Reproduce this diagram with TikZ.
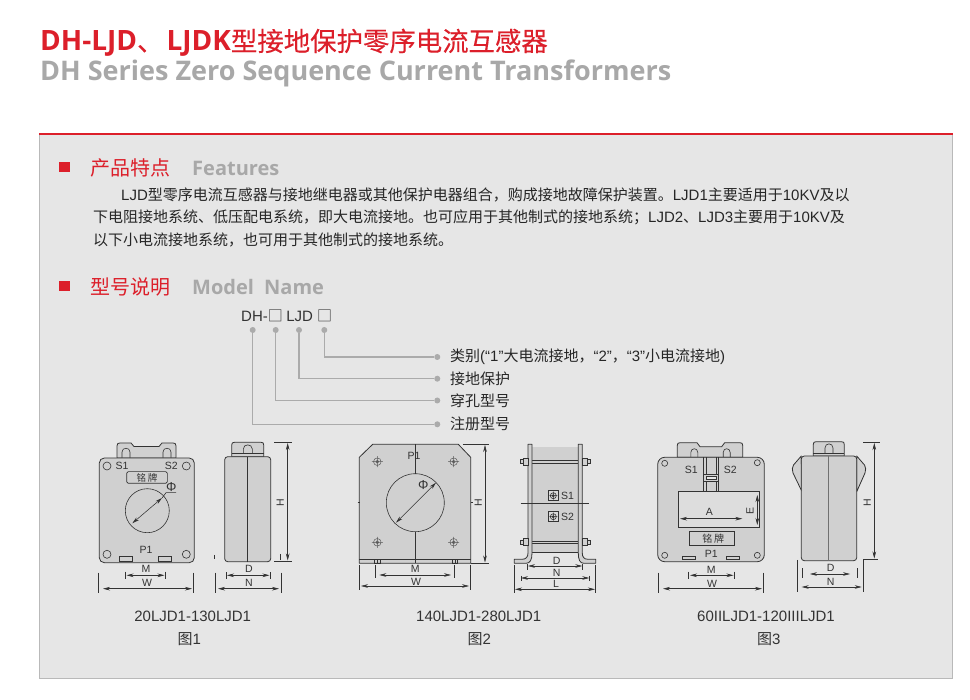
\documentclass[tikz,border=0pt]{standalone}
\usepackage{fontspec}
\usetikzlibrary{arrows.meta}
\setmainfont{Liberation Sans}
\newfontfamily\cjkreg{Noto Sans CJK SC}
\newfontfamily\cjkthick[FakeBold=0.25]{Noto Sans CJK SC}
\newfontfamily\headfont{Open Sans}
\newcommand{\cj}[1]{{\cjkreg #1}}
\newcommand{\fs}[1]{\fontsize{#1}{#1}\selectfont}
\definecolor{panelgray}{HTML}{E6E6E6}
\definecolor{titlered}{HTML}{DC1F2A}
\definecolor{headgray}{HTML}{A8A8A8}
\definecolor{inkgray}{HTML}{333333}
\definecolor{devgray}{HTML}{D0D0D0}
\definecolor{leadgray}{HTML}{ABABAB}
\tikzset{
 lbl/.style={inner sep=0pt,text=inkgray,font=\fs{10.5}},
 captxt/.style={inner sep=0pt,text=inkgray,font=\fs{15}},
 body/.style={inner sep=0pt,anchor=west,text=black!85,font=\fs{15}},
 dev/.style={draw=inkgray,fill=devgray,line width=.8pt,line join=round},
 thin ink/.style={draw=inkgray,line width=.6pt},
 dimarrow/.style={draw=inkgray,line width=.55pt,{Stealth[length=7pt,width=3.6pt]}-{Stealth[length=7pt,width=3.6pt]}},
 leader/.style={draw=leadgray,line width=1.2pt},
 leaddot/.style={circle,fill=leadgray,inner sep=0pt,minimum size=6pt},
 bulletsq/.style={fill=titlered,inner sep=0pt,minimum width=10.7pt,minimum height=9.4pt},
}
\newcommand{\hdim}[3]{\draw[dimarrow] (#1,#3) -- (#2,#3);}
\newcommand{\vdim}[3]{\draw[dimarrow] (#3,#1) -- (#3,#2);}
\newcommand{\tick}[3]{\draw[thin ink] (#1,#2) -- (#1,#3);}
\newcommand{\screw}[2]{\draw[draw=inkgray!80,line width=.5pt] (#1,#2) circle (3.8) (#1,#2) circle (1.6) (#1-5.5,#2) -- (#1+5.5,#2) (#1,#2-5.5) -- (#1,#2+5.5);}
\newcommand{\terminal}[2]{\draw[thin ink,fill=devgray!80] (#1-5,#2-5) rectangle (#1+5,#2+5);\draw[thin ink] (#1,#2) circle (3) (#1,#2) circle (1.2) (#1-4,#2) -- (#1+4,#2) (#1,#2-4) -- (#1,#2+4);}
\begin{document}
\begin{tikzpicture}[x=1pt,y=-1pt]
\useasboundingbox (0,0) rectangle (970,700);
\fill[white] (0,0) rectangle (970,700);
% panel
\fill[panelgray] (39.5,134) rectangle (952.7,678);
\draw[headgray!80,line width=.8pt] (39.5,134) -- (39.5,678) -- (952.7,678) -- (952.7,134);
\draw[titlered,line width=2pt] (39,134.5) -- (953,134.5);
% titles
\node[inner sep=0pt,anchor=base west,text=titlered,font=\fs{28}] (title) at (40,51) {{\headfont\bfseries DH-LJD}{\cjkthick\fs{26.4}、}\hspace{3pt}{\headfont\bfseries LJDK}{\cjkthick\fs{26.4}型接地保护零序电流互感器}};
\node[inner sep=0pt,anchor=base west,text=headgray,font=\fs{27}] (subtitle) at (40,81) {\headfont\bfseries DH Series Zero Sequence Current Transformers};
% features
\node[bulletsq] (b1) at (64.7,167.2) {};
\node[inner sep=0pt,anchor=west,text=titlered,font=\fs{20}] (h1) at (90,168) {\cj{产品特点}};
\node[inner sep=0pt,anchor=west,text=headgray,font=\fs{20}] (h1e) at (192,168) {\headfont\bfseries Features};
\node[body] (p1) at (121,195) {LJD\cj{型零序电流互感器与接地继电器或其他保护电器组合，购成接地故障保护装置。}LJD1\cj{主要适用于}10KV\cj{及以}};
\node[body] (p2) at (93,217.7) {\cj{下电阻接地系统、低压配电系统，即大电流接地。也可应用于其他制式的接地系统；}LJD2\cj{、}LJD3\cj{主要用于}10KV\cj{及}};
\node[body] (p3) at (93,239.5) {\cj{以下小电流接地系统，也可用于其他制式的接地系统。}};
% model
\node[bulletsq] (b2) at (64.7,286) {};
\node[inner sep=0pt,anchor=west,text=titlered,font=\fs{20}] (h2) at (90,287) {\cj{型号说明}};
\node[inner sep=0pt,anchor=west,text=headgray,font=\fs{20}] (h2e) at (192,287) {\headfont\bfseries Model\hspace{5pt} Name};
\node[inner sep=0pt,anchor=west,text=inkgray,font=\fs{15}] (code) at (241,316) {DH-\cj{□}\hspace{3.5pt}LJD\hspace{4pt}\cj{□}};
\foreach \n/\x in {da/252.7,db/275.7,dc/299,dd/324.3} \node[leaddot] (\n) at (\x,330) {};
\foreach \n/\y in {ea/424.3,eb/400.5,ec/378.7,ed/357} \node[leaddot] (\n) at (437.3,\y) {};
\draw[leader] (dd) |- (ed);
\draw[leader] (dc) |- (ec);
\draw[leader] (db) |- (eb);
\draw[leader] (da) |- (ea);
\foreach \n/\y/\t in {la/357/{\cj{类别}(“1”\cj{大电流接地，}“2”\cj{，}“3”\cj{小电流接地})},lb/378.7/\cj{接地保护},lc/401/\cj{穿孔型号},ld/424.3/\cj{注册型号}}
 \node[inner sep=0pt,anchor=west,text=black!85,font=\fs{15}] (\n) at (450,\y) {\t};
% ===== Figure 1
\draw[dev] (117,458) -- (117,446) .. controls (117,443.5) and (118,443) .. (120,443) -- (131,443) -- (134,446.5) -- (159,446.5) -- (162,443) -- (173,443) .. controls (175,443) and (176,443.5) .. (176,446) -- (176,458) -- cycle;
\draw[thin ink] (122,458) -- (122,452) .. controls (122,447) and (130,447) .. (130,452) -- (130,458);
\draw[thin ink] (163,458) -- (163,452) .. controls (163,447) and (171,447) .. (171,452) -- (171,458);
\draw[dev,rounded corners=5pt] (99.3,458) rectangle (194.3,562.7);
\foreach \x/\y in {107/466,186.3/466,107/554.3,186.3/554.3} \draw[thin ink] (\x,\y) circle (4);
\node[lbl] (f1s1) at (122,466) {S1};
\node[lbl] (f1s2) at (171.3,466) {S2};
\draw[thin ink,rounded corners=1.5pt] (126.7,471.7) rectangle (167.3,483.3);
\node[lbl,font=\fs{9.5}] (f1np) at (147,477.5) {\cj{铭\,牌}};
\draw[thin ink] (147.3,510.7) circle (22);
\draw[dimarrow] (132.3,523.3) -- (162,498);
\draw[thin ink] (162,498) -- (166,492.7) -- (176,492.7);
\node[lbl,font=\fs{13}] (f1phi) at (171.3,487.3) {Φ};
\node[lbl] (f1p1) at (146,550) {P1};
\draw[thin ink] (119.3,556.7) rectangle (132.3,561.7) (158.3,556.7) rectangle (171.7,561.7);
\node[lbl] (f1m) at (146,568.7) {M};
\tick{125.7}{571.7}{579} \tick{165.3}{571.7}{579}
\hdim{126.5}{164.5}{575.3}
\node[lbl] (f1w) at (147,582.7) {W};
\tick{98.7}{572.7}{593.3} \tick{193.3}{572.7}{593.3}
\hdim{103}{192}{588.7}
% side 1
\draw[dev] (231.7,456.7) -- (231.7,445) .. controls (231.7,443) and (232.5,442.3) .. (234.5,442.3) -- (261,442.3) .. controls (263,442.3) and (263.7,443) .. (263.7,445) -- (263.7,456.7) -- cycle;
\draw[thin ink] (243.3,453.5) -- (243.3,449) .. controls (243.3,443.5) and (252.3,443.5) .. (252.3,449) -- (252.3,453.5);
\draw[thin ink] (231.7,453.5) -- (263.7,453.5);
\draw[dev,rounded corners=3pt] (224.7,456.7) rectangle (270.7,561.7);
\draw[thin ink,line width=.8pt] (247.3,456.7) -- (247.3,561.7);
\draw[thin ink] (274,442.3) -- (292.3,442.3) (274,561) -- (292.3,561);
\vdim{443}{560.5}{287.7}
\node[lbl,rotate=90] (f1h) at (280.3,502.3) {H};
\tick{214.7}{555}{559} \tick{280.7}{554}{560}
\node[lbl] (f1d) at (249,568.7) {D};
\tick{226}{572}{579} \tick{270.3}{572}{579}
\hdim{227}{269.5}{575.3}
\node[lbl] (f1n) at (249,582.7) {N};
\tick{215}{572.7}{593.3} \tick{281}{572.7}{593.3}
\hdim{218}{279}{588.7}
\node[captxt] (c1) at (192.7,616) {20LJD1-130LJD1};
\node[captxt] (t1) at (189.3,639.3) {\cj{图}1};
% ===== Figure 2
\draw[dev] (372.7,444.3) -- (458.3,444.3) -- (470.7,457.3) -- (470.7,563.3) -- (359.3,563.3) -- (359.3,457.3) -- cycle;
\draw[thin ink] (359.3,559.3) -- (470.7,559.3);
\draw[thin ink] (415.3,444.3) -- (415.3,473.7) (415.3,531.7) -- (415.3,563.3);
\draw[thin ink] (415.3,502.7) circle (29);
\draw[dimarrow] (396,522.7) -- (436,482.7);
\screw{377.3}{461.7} \screw{453.7}{461.7} \screw{377.3}{542.3} \screw{453.7}{542.3}
\node[lbl] (f2p1) at (414,456) {P1};
\node[lbl,font=\fs{13}] (f2phi) at (423.3,485) {Φ};
\draw[thin ink] (374.3,559.3) rectangle (380,563.3) (377.2,559.3) -- (377.2,563.3) (452,559.3) rectangle (457.7,563.3) (454.9,559.3) -- (454.9,563.3);
\draw[thin ink] (462.7,444.3) -- (489.3,444.3) (470.7,563.3) -- (489.3,563.3) (357.5,502.7) -- (359.5,502.7) (470.7,502.7) -- (472.5,502.7);
\vdim{445}{562.5}{485}
\node[lbl,rotate=90] (f2h) at (478.3,502.7) {H};
\node[lbl] (f2m) at (415.3,568.7) {M};
\tick{375.7}{565}{577.7} \tick{454.3}{565}{577.7}
\hdim{379.3}{451}{575}
\node[lbl] (f2w) at (416,582) {W};
\tick{359.7}{565}{590} \tick{470.3}{565}{590}
\hdim{361}{469}{586}
% side 2
\fill[devgray] (532,446.7) rectangle (578.3,552.7);
\draw[thin ink] (532,460.7) -- (578.3,460.7) (532,463.3) -- (578.3,463.3) (532,541) -- (578.3,541) (532,543.3) -- (578.3,543.3) (532,552.7) -- (578.3,552.7);
\draw[dev] (528,444.3) -- (532,444.3) -- (532,553) .. controls (532,560) and (530,563.3) .. (526,563.3) -- (514.3,563.3) -- (514.3,559.3) -- (522,559.3) .. controls (526,559.3) and (528,557) .. (528,553) -- cycle;
\draw[dev] (578.3,444.3) -- (582.3,444.3) -- (582.3,553) .. controls (582.3,557) and (584,559.3) .. (588,559.3) -- (595.7,559.3) -- (595.7,563.3) -- (584,563.3) .. controls (580,563.3) and (578.3,560) .. (578.3,553) -- cycle;
\foreach \y in {461.7,542.3}{
 \draw[thin ink,fill=devgray] (520.7,\y-2) rectangle (523,\y+2) (523,\y-3.5) rectangle (528,\y+3.5);
 \draw[thin ink,fill=devgray] (587.5,\y-2) rectangle (590,\y+2) (582.3,\y-3.5) rectangle (587.5,\y+3.5);
}
\draw[thin ink] (520.7,503.7) -- (589.3,503.7);
\terminal{553.3}{495.7} \terminal{553.3}{516.7}
\node[lbl] (f2s1) at (567.5,495.7) {S1};
\node[lbl] (f2s2) at (567.5,517) {S2};
\node[lbl] (f2d) at (556.7,561) {D};
\tick{527.5}{564}{570} \tick{582.3}{564}{570}
\hdim{528}{582.3}{566}
\node[lbl] (f2n) at (556.7,573) {N};
\tick{521}{575.5}{581} \tick{589.3}{575.5}{581}
\hdim{521}{589.3}{578}
\node[lbl] (f2l) at (556,584) {L};
\tick{514.7}{565}{593} \tick{595.3}{565}{593}
\hdim{515}{595}{589.3}
\node[captxt] (c2) at (478.7,616) {140LJD1-280LJD1};
\node[captxt] (t2) at (479.3,639.3) {\cj{图}2};
% ===== Figure 3
\draw[dev] (677.3,457.3) -- (677.3,445.5) .. controls (677.3,443.5) and (678,442.7) .. (680,442.7) -- (697,442.7) -- (700,446.7) -- (721.7,446.7) -- (724.7,442.7) -- (740,442.7) .. controls (742,442.7) and (742.7,443.5) .. (742.7,445.5) -- (742.7,457.3) -- cycle;
\draw[thin ink] (690.8,457.3) -- (690.8,452.5) .. controls (690.8,447.5) and (697.8,447.5) .. (697.8,452.5) -- (697.8,457.3);
\draw[thin ink] (723.2,457.3) -- (723.2,452.5) .. controls (723.2,447.5) and (730.2,447.5) .. (730.2,452.5) -- (730.2,457.3);
\draw[dev,rounded corners=7pt] (657.7,457.3) rectangle (764.3,561.7);
\foreach \x/\y in {664.7/463.3,757.3/462.7,664.7/555.3,757.3/555.3} \draw[thin ink] (\x,\y) circle (3);
\draw[thin ink] (703.7,457.3) -- (703.7,491.7) (706,457.3) -- (706,491.7) (716.3,457.3) -- (716.3,491.7) (718.7,457.3) -- (718.7,491.7);
\draw[thin ink,fill=devgray] (703.7,474) rectangle (718.7,481.7);
\draw[thin ink,fill=panelgray] (706,476) rectangle (716.3,479.5);
\node[lbl] (f3s1) at (691.3,470) {S1};
\node[lbl] (f3s2) at (730.3,470) {S2};
\draw[thin ink,fill=panelgray!60!devgray] (678,491.7) rectangle (759,527.7);
\hdim{680}{742.3}{518.7}
\node[lbl] (f3a) at (709.3,512.3) {A};
\vdim{495}{525}{757.3}
\node[lbl,rotate=90] (f3e) at (750,511) {E};
\draw[thin ink] (689.7,531.3) rectangle (734.7,545.7);
\node[lbl,font=\fs{10}] (f3np) at (713.3,539) {\cj{铭\,牌}};
\node[lbl] (f3p1) at (711.3,553.7) {P1};
\draw[thin ink] (682.3,556.3) rectangle (695.7,559.3) (726.3,556.3) rectangle (739.7,559.3);
\node[lbl] (f3m) at (711.3,570.3) {M};
\tick{688.7}{571.7}{579.3} \tick{734.7}{571.7}{579.3}
\hdim{690}{733.5}{575.3}
\node[lbl] (f3w) at (712,583.7) {W};
\tick{658.7}{572.7}{593.3} \tick{763.7}{572.7}{593.3}
\hdim{663}{762}{588.7}
% side 3
\draw[dev] (801.3,456) -- (793.5,465) .. controls (792,467) and (792,470) .. (793,473) -- (801.7,491) -- cycle;
\draw[dev] (856.7,456) -- (864.5,465) .. controls (866,467) and (866,470) .. (865,473) -- (856.7,491.7) -- cycle;
\draw[dev] (813.3,456) -- (813.3,444.5) .. controls (813.3,442.5) and (814,441.7) .. (816,441.7) -- (841.5,441.7) .. controls (843.5,441.7) and (844.3,442.5) .. (844.3,444.5) -- (844.3,456) -- cycle;
\draw[thin ink] (825,453) -- (825,448) .. controls (825,442.5) and (833,442.5) .. (833,448) -- (833,453);
\draw[thin ink] (813.3,453) -- (844.3,453);
\draw[dev,rounded corners=3pt] (801.3,456) rectangle (856.7,560.7);
\draw[draw=inkgray!70,line width=1pt] (828.7,456) -- (828.7,560.7);
\draw[thin ink] (863.3,442.3) -- (880,442.3) (863.3,559.3) -- (878.3,559.3) (863.3,559.3) -- (863.3,591.7);
\vdim{443}{558.5}{874.3}
\node[lbl,rotate=90] (f3h) at (867.3,502.7) {H};
\node[lbl] (f3d) at (830.7,568.3) {D};
\tick{802.7}{568.3}{577.7} \tick{857.3}{568.3}{577.7}
\hdim{810}{850}{574}
\node[lbl] (f3n) at (830.7,581.7) {N};
\tick{797.7}{560}{591.7}
\hdim{801.7}{861.7}{587}
\node[captxt] (c3) at (766,616) {60IILJD1-120IIILJD1};
\node[captxt] (t3) at (768.7,639.3) {\cj{图}3};
\end{tikzpicture}
\end{document}
